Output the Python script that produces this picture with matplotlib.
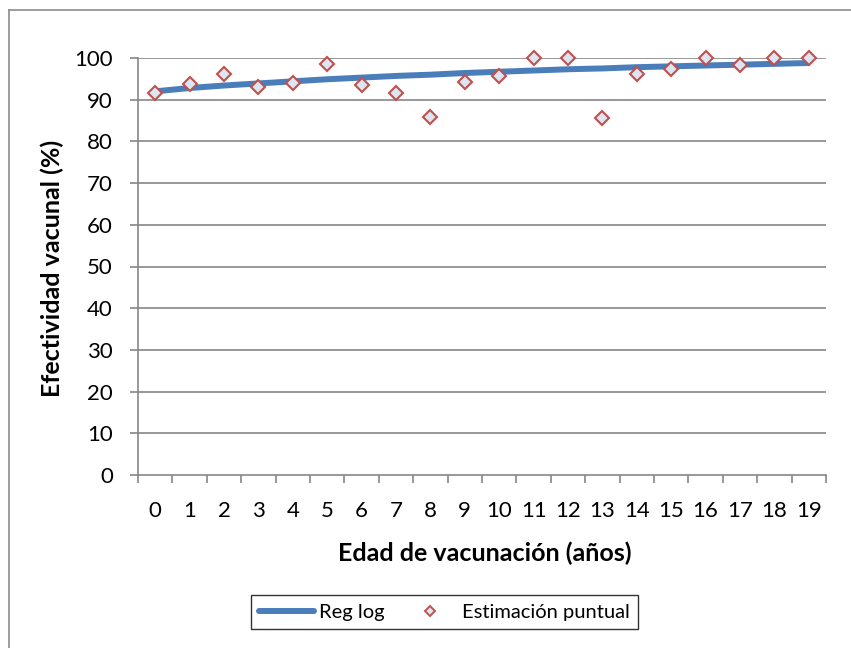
import matplotlib
matplotlib.use("Agg")
import matplotlib.pyplot as plt
from matplotlib.lines import Line2D
import numpy as np

ages = list(range(20))
age_labels = [str(a) for a in ages]
point_estimate = [91.6, 93.7, 96.1, 93.1, 94.0, 98.6, 93.6, 91.6, 85.9, 94.3,
                  95.6, 100.0, 100.0, 85.5, 96.2, 97.4, 100.0, 98.4, 100.0, 100.0]
reg_log = [92.0, 92.8, 93.4, 93.9, 94.4, 94.9, 95.3, 95.7, 96.0, 96.4,
           96.7, 97.0, 97.3, 97.5, 97.8, 98.0, 98.2, 98.4, 98.6, 98.8]
y_ticks = list(range(0, 101, 10))
series_names = ['Reg log', 'Estimación puntual']

plt.rcParams['font.family'] = ['Lato', 'DejaVu Sans']

W, H = 851, 648
fig = plt.figure(figsize=(W / 100, H / 100), dpi=100)
fig.patch.set_facecolor('white')

ax = fig.add_axes([138 / W, 1 - 475 / H, (826 - 138) / W, (475 - 58) / H])

grid_c = '#868686'
line_c = '#4a7ebb'
mk_face, mk_edge = '#dce6f2', '#c0504d'
ax.set_ylim(0, 100)
ax.set_xlim(-0.5, 19.5)
ax.set_yticks(y_ticks)
for yv in y_ticks[1:]:
    ax.axhline(yv, color=grid_c, lw=1.2, zorder=1)

ax.plot(ages, reg_log, color=line_c, lw=4.3, solid_capstyle='butt', zorder=3)
ax.plot(ages, point_estimate, linestyle='none', marker='D', ms=7, mfc=mk_face,
        mec=mk_edge, mew=1.5, zorder=4, clip_on=False)

for s in ['top', 'right']:
    ax.spines[s].set_visible(False)
for s in ['left', 'bottom']:
    ax.spines[s].set_color(grid_c)
    ax.spines[s].set_linewidth(1.2)

ax.set_xticks(np.arange(-0.5, 20, 1), minor=False)
ax.set_xticklabels([])
ax.set_xticks(ages, minor=True)
ax.set_xticklabels(age_labels, minor=True)
ax.tick_params(axis='x', which='major', length=6, width=1.2, color=grid_c, direction='out')
ax.tick_params(axis='x', which='minor', length=0, pad=19, labelsize=16)
ax.tick_params(axis='y', length=6, width=1.2, color=grid_c, direction='out', pad=12, labelsize=16)

fig.text(52 / W, 1 - 268 / H, 'Efectividad vacunal (%)', rotation=90, ha='center', va='center',
         fontsize=18, fontweight='bold')
fig.text(485 / W, 1 - 553 / H, 'Edad de vacunación (años)', ha='center', va='center',
         fontsize=18, fontweight='bold')

handles = [Line2D([], [], color=line_c, lw=4.3, solid_capstyle='round'),
           Line2D([], [], linestyle='none', marker='D', ms=5, mfc=mk_face, mec=mk_edge, mew=1.4)]
leg = fig.legend(handles, series_names, loc='center',
                 bbox_to_anchor=((252 + 637) / 2 / W, 1 - 612 / H),
                 ncol=2, frameon=True, fancybox=False, fontsize=14.5,
                 handlelength=2.75, handletextpad=0.25, columnspacing=0.85,
                 borderpad=0.4, borderaxespad=0)
leg.get_frame().set_edgecolor('#000000')
leg.get_frame().set_linewidth(1.0)

# outer chart border (cropped on right/bottom)
fig.add_artist(Line2D([8.5 / W, 8.5 / W], [1 - 10 / H, 0], transform=fig.transFigure,
                      color='#8c8c8c', lw=1.2))
fig.add_artist(Line2D([8.5 / W, 1], [1 - 10 / H, 1 - 10 / H], transform=fig.transFigure,
                      color='#8c8c8c', lw=1.2))

fig.savefig('out.png', dpi=100)
